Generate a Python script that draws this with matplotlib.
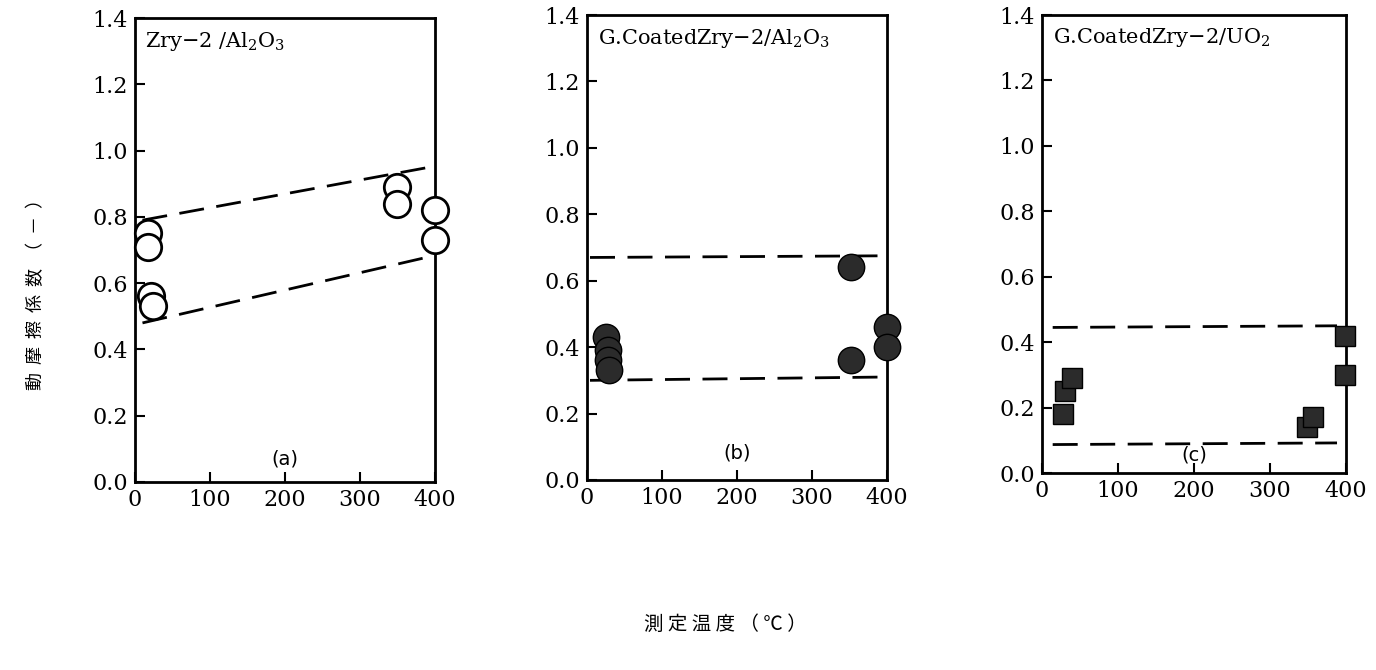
import matplotlib.pyplot as plt

# friction coefficient vs. test temperature, three couples
temp_a = [17, 17, 22, 24, 349, 349, 400, 400]
mu_a = [0.75, 0.71, 0.56, 0.53, 0.89, 0.84, 0.82, 0.73]
band_a_x = [10, 393]
band_a_hi = [0.79, 0.95]
band_a_lo = [0.48, 0.68]

temp_b = [26, 28, 28, 30, 352, 352, 400, 400]
mu_b = [0.43, 0.39, 0.36, 0.33, 0.64, 0.36, 0.46, 0.40]
band_b_x = [4, 397]
band_b_hi = [0.67, 0.675]
band_b_lo = [0.30, 0.31]

temp_c = [27, 30, 39, 348, 356, 399, 399]
mu_c = [0.18, 0.25, 0.29, 0.14, 0.17, 0.42, 0.30]
band_c_x = [14, 388]
band_c_hi = [0.445, 0.45]
band_c_lo = [0.087, 0.092]

titles = ['Zry$-$2 /Al$_2$O$_3$', 'G.CoatedZry$-$2/Al$_2$O$_3$', 'G.CoatedZry$-$2/UO$_2$']
tags = ['(a)', '(b)', '(c)']
tag_y = [0.07, 0.08, 0.055]

plt.rcParams['font.family'] = ['DejaVu Serif']
plt.rcParams['mathtext.fontset'] = 'dejavuserif'

fig = plt.figure(figsize=(13.76, 6.70), dpi=100)
rects = [[0.0981, 0.2806, 0.218, 0.6925],
         [0.4266, 0.2836, 0.218, 0.694],
         [0.7573, 0.294, 0.221, 0.6836]]
axes = [fig.add_axes(r) for r in rects]

data = [(temp_a, mu_a, band_a_x, band_a_hi, band_a_lo),
        (temp_b, mu_b, band_b_x, band_b_hi, band_b_lo),
        (temp_c, mu_c, band_c_x, band_c_hi, band_c_lo)]

for i, ax in enumerate(axes):
    t, mu, bx, hi, lo = data[i]
    for yy in (hi, lo):
        ax.plot(bx, yy, color='black', lw=2.0, dashes=(9, 4.5))
    if i == 0:
        ax.plot(t, mu, 'o', ms=19, mfc='white', mec='black', mew=2.0,
                clip_on=False, zorder=5)
    elif i == 1:
        ax.plot(t, mu, 'o', ms=19, mfc='#2b2b2b', mec='black', mew=1.0,
                clip_on=False, zorder=5)
    else:
        ax.plot(t, mu, 's', ms=14, mfc='#2b2b2b', mec='black', mew=1.0,
                clip_on=False, zorder=5)
    ax.set_xlim(0, 400)
    ax.set_ylim(0, 1.4)
    ax.set_xticks([0, 100, 200, 300, 400])
    ax.set_yticks([0.0, 0.2, 0.4, 0.6, 0.8, 1.0, 1.2, 1.4])
    ax.set_yticklabels(['0.0', '0.2', '0.4', '0.6', '0.8', '1.0', '1.2', '1.4'])
    ax.tick_params(direction='in', length=7, width=1.5, labelsize=16, pad=5)
    for s in ax.spines.values():
        s.set_linewidth(2.0)
    ax.text(14, 1.33, titles[i], fontsize=15, va='center', ha='left')
    ax.text(200, tag_y[i], tags[i], fontsize=14, ha='center', va='center',
            family='DejaVu Sans')

fig.text(0.026, 0.567, '動  摩  擦  係  数  （  －  ）', rotation=90, ha='center',
         va='center', fontsize=13, family=['Noto Sans CJK JP', 'DejaVu Sans'])
fig.text(0.527, 0.068, '測 定 温 度 （ ℃ ）', ha='center', va='center',
         fontsize=14, family=['Noto Sans CJK JP', 'DejaVu Sans'])

fig.savefig('out.png', dpi=100)
